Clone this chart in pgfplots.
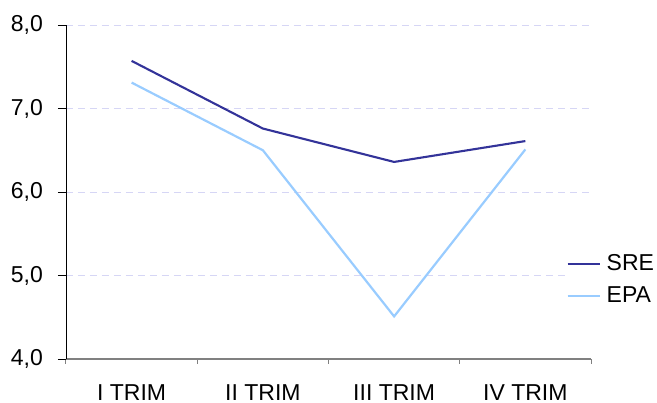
\documentclass[border=0pt]{standalone}
\usepackage{pgfplots}
\pgfplotsset{compat=1.18}
\usepackage{fontspec}
\setmainfont{Liberation Sans}
\definecolor{sre}{HTML}{333399}
\definecolor{epa}{HTML}{99CCFF}
\definecolor{gridc}{HTML}{D6D6F5}
\definecolor{axgray}{HTML}{808080}
\begin{document}
\begin{tikzpicture}
\fontsize{23}{27}\selectfont
\begin{axis}[
  scale only axis,
  width=525pt, height=334pt,
  xmin=-0.5, xmax=3.5,
  ymin=4, ymax=8,
  ytick={4,5,6,7,8},
  yticklabel={\pgfmathprintnumber[fixed,fixed zerofill,precision=1,use comma]{\tick}},
  /pgf/number format/assume math mode=true,
  xtick={0,1,2,3},
  xticklabels={I TRIM,II TRIM,III TRIM,IV TRIM},
  minor xtick={-0.5,0.5,1.5,2.5,3.5},
  xtick style={draw=none},
  minor x tick style={draw=axgray, line width=1pt},
  y tick style={draw=black, line width=0.8pt},
  tick align=outside,
  major tick length=8pt,
  minor tick length=5pt,
  axis x line*=bottom,
  axis y line*=left,
  x axis line style={draw=axgray, line width=1.6pt, -},
  y axis line style={draw=black, line width=0.8pt, -},
  ymajorgrids,
  major grid style={draw=gridc, dashed, dash pattern=on 7pt off 5pt, line width=0.8pt},
  tick label style={font=\fontsize{23}{27}\selectfont},
  yticklabel style={anchor=east, inner sep=0pt, xshift=-15pt},
  xticklabel style={anchor=north, inner sep=0pt, yshift=-17pt},
  legend style={at={(rel axis cs:0.953,0.2365)}, anchor=west, draw=none, fill=white,
    font=\fontsize{23}{27}\selectfont, inner sep=0pt, row sep=9pt,
    cells={anchor=west}},
  legend image code/.code={\draw[#1] (0pt,0pt) -- (32pt,0pt); \path (36pt,0pt);},
  legend cell align=left,
  clip=false,
]
\addplot[sre, line width=2.1pt] coordinates {(0,7.57) (1,6.76) (2,6.36) (3,6.61)};
\addlegendentry{SRE}
\addplot[epa, line width=2.2pt] coordinates {(0,7.31) (1,6.50) (2,4.51) (3,6.51)};
\addlegendentry{EPA}
\coordinate (bl) at (rel axis cs:0,0);
\coordinate (tr) at (rel axis cs:1,1);
\end{axis}
\pgfresetboundingbox
\path ([xshift=-66pt,yshift=-44pt]bl) rectangle ([xshift=66pt,yshift=25pt]tr);
\end{tikzpicture}
\end{document}
